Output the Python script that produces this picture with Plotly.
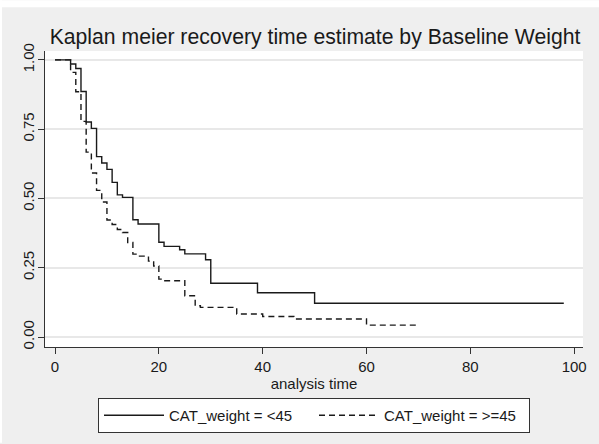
import plotly.graph_objects as go

# Kaplan-Meier step estimates
time_lt45 = [0, 3, 4, 5, 6, 7, 8, 9, 10, 11, 12, 13, 15, 16, 20, 21, 24, 25, 29, 30, 39, 50, 98]
surv_lt45 = [1.0, 0.985, 0.969, 0.886, 0.776, 0.753, 0.651, 0.628, 0.605, 0.558, 0.513, 0.504,
             0.423, 0.408, 0.342, 0.327, 0.315, 0.300, 0.279, 0.194, 0.160, 0.122, 0.122]

time_ge45 = [0, 3, 4, 5, 6, 7, 8, 9, 10, 11, 12, 13, 14, 15, 16, 18, 19, 20, 21, 25, 27, 28,
             35, 40, 46, 60, 70]
surv_ge45 = [1.0, 0.955, 0.885, 0.778, 0.667, 0.592, 0.529, 0.487, 0.422, 0.406, 0.388, 0.377,
             0.341, 0.299, 0.292, 0.274, 0.256, 0.209, 0.203, 0.149, 0.113, 0.107,
             0.083, 0.074, 0.065, 0.043, 0.043]

series_names = ["CAT_weight = <45", "CAT_weight = >=45"]
x_ticks = [0, 20, 40, 60, 80, 100]
y_ticks = [0, 0.25, 0.5, 0.75, 1.0]
y_tick_text = ["0.00", "0.25", "0.50", "0.75", "1.00"]

FONT = "Liberation Sans, Arial, sans-serif"
INK = "#1a1a1a"

fig = go.Figure()
fig.add_trace(go.Scatter(x=time_lt45, y=surv_lt45, mode="lines", line_shape="hv",
                         name=series_names[0], line=dict(color=INK, width=1.4)))
fig.add_trace(go.Scatter(x=time_ge45, y=surv_ge45, mode="lines", line_shape="hv",
                         name=series_names[1],
                         line=dict(color=INK, width=1.4, dash="6px,4px")))

W, H = 599, 444
L, R, T, B = 45, 583, 51, 348
pw, ph = R - L, B - T

def px_x(p):
    return (p - L) / pw

def px_y(p):
    return (B - p) / ph

fig.update_layout(
    width=W, height=H,
    margin=dict(l=L, r=W - R, t=T, b=H - B, pad=0),
    paper_bgcolor="#efefef",
    plot_bgcolor="white",
    font=dict(family=FONT, color=INK, size=15),
    title=dict(text="Kaplan meier recovery time estimate by Baseline Weight",
               x=px_x(315), xref="paper", xanchor="center",
               y=1 - 37 / H, yref="container", yanchor="middle",
               font=dict(size=21.2, family=FONT, color=INK)),
    showlegend=True,
    legend=dict(orientation="h", x=px_x(98), xanchor="left",
                y=px_y(398), yanchor="top",
                bgcolor="white", bordercolor="#333333", borderwidth=1,
                font=dict(size=15, family=FONT, color=INK),
                itemwidth=60, entrywidth=140, itemclick=False),
    xaxis=dict(range=[-1.93, 101.7], tickvals=x_ticks, showgrid=False, zeroline=False,
               showline=True, linecolor="#333333", linewidth=1,
               ticks="outside", ticklen=6, tickcolor="#333333",
               tickfont=dict(size=15), title=dict(text="analysis time", font=dict(size=15), standoff=4)),
    yaxis=dict(range=[-0.036, 1.032], tickvals=y_ticks, ticktext=y_tick_text, tickangle=-90,
               showgrid=True, gridcolor="#e8e8e8", gridwidth=1.5, zeroline=False,
               showline=True, linecolor="#333333", linewidth=1,
               ticks="outside", ticklen=6, tickcolor="#333333", ticklabelstandoff=-2,
               tickfont=dict(size=15)),
    shapes=[
        dict(type="rect", xref="paper", yref="paper", x0=px_x(0), x1=px_x(W),
             y0=px_y(7), y1=px_y(0), fillcolor="white", line=dict(width=0), layer="below"),
        dict(type="rect", xref="paper", yref="paper", x0=px_x(0), x1=px_x(2),
             y0=px_y(H), y1=px_y(0), fillcolor="white", line=dict(width=0), layer="below"),
    ],
)

fig.write_html("out.html", post_script="document.body.style.margin='0';",
               config={"displayModeBar": False})
